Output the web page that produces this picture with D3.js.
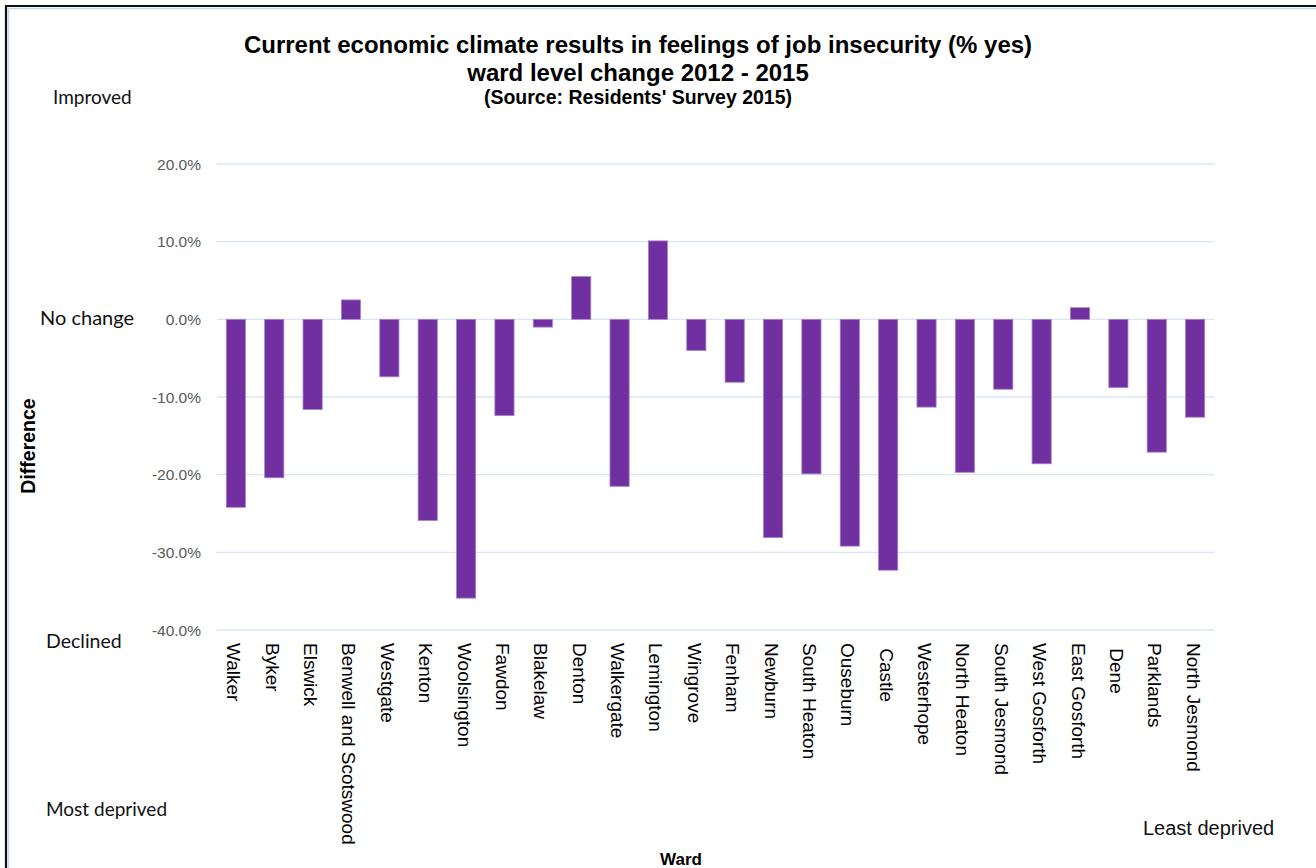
<!DOCTYPE html>
<html>
<head>
<meta charset="utf-8">
<script src="https://cdn.jsdelivr.net/npm/d3@7/dist/d3.min.js"></script>
<style>
  html, body { margin: 0; padding: 0; background: #fff; }
  svg { display: block; }
  .cat { white-space: pre; }
</style>
</head>
<body>
<svg id="chart" width="1316" height="868"></svg>
<script>
// Wards, ordered from most to least deprived
const wards = [
  "Walker", "Byker", "Elswick", "Benwell and Scotswood", "Westgate", "Kenton",
  "Woolsington", "Fawdon", "Blakelaw", "Denton", "Walkergate", "Lemington",
  "Wingrove", "Fenham", "Newburn", "South Heaton", "Ouseburn", " Castle",
  "Westerhope", "North Heaton", "South Jesmond", "West Gosforth", "East Gosforth",
  " Dene", "Parklands", "North Jesmond"
];

// Change in % answering yes, 2012 to 2015
const difference = [
  -0.242, -0.204, -0.116, 0.025, -0.074, -0.259,
  -0.359, -0.124, -0.010, 0.055, -0.215, 0.101,
  -0.040, -0.081, -0.281, -0.199, -0.292, -0.323,
  -0.113, -0.197, -0.090, -0.186, 0.015,
  -0.088, -0.171, -0.126
];

const tickValues = [-0.4, -0.3, -0.2, -0.1, 0, 0.1, 0.2];
const tickLabels = ["-40.0%", "-30.0%", "-20.0%", "-10.0%", "0.0%", "10.0%", "20.0%"];

const titleLines = [
  "Current economic climate results in feelings of job insecurity (% yes)",
  "ward level change 2012 - 2015"
];
const sourceLine = "(Source: Residents' Survey 2015)";

const svg = d3.select("#chart");

const x = d3.scaleBand()
  .domain(wards)
  .range([216.7, 1214.3])
  .paddingInner(0.5)
  .paddingOuter(0.25);

const y = d3.scaleLinear()
  .domain([-0.4, 0.2])
  .range([630, 164]);

// outer frame
svg.append("line").attr("x1", 8.5).attr("y1", 8.5).attr("x2", 1316).attr("y2", 8.5)
  .attr("stroke", "#c9d7ea").attr("stroke-width", 1.5);
svg.append("line").attr("x1", 8.5).attr("y1", 8.5).attr("x2", 8.5).attr("y2", 868)
  .attr("stroke", "#c9d7ea").attr("stroke-width", 1.5);
svg.append("line").attr("x1", 5).attr("y1", 6).attr("x2", 1316).attr("y2", 6)
  .attr("stroke", "#111").attr("stroke-width", 2.2);
svg.append("line").attr("x1", 6).attr("y1", 5).attr("x2", 6).attr("y2", 868)
  .attr("stroke", "#111").attr("stroke-width", 2.2);

// gridlines
const [gx0, gx1] = x.range();
svg.append("g").selectAll("line")
  .data(tickValues)
  .join("line")
  .attr("x1", gx0).attr("x2", gx1)
  .attr("y1", d => y(d)).attr("y2", d => y(d))
  .attr("stroke", "#dae6f4").attr("stroke-width", 1.3);

// y tick labels
svg.append("g").selectAll("text")
  .data(tickValues)
  .join("text")
  .attr("x", 201)
  .attr("y", d => y(d))
  .attr("dy", "0.36em")
  .attr("text-anchor", "end")
  .attr("font-family", "Liberation Sans, Arial, sans-serif")
  .attr("font-size", 15.5)
  .attr("fill", "#595959")
  .text((d, i) => tickLabels[i]);

// bars
const data = wards.map((w, i) => ({ ward: w, value: difference[i] }));
svg.append("g").selectAll("rect")
  .data(data)
  .join("rect")
  .attr("x", d => x(d.ward))
  .attr("width", x.bandwidth())
  .attr("y", d => y(Math.max(0, d.value)))
  .attr("height", d => Math.abs(y(d.value) - y(0)))
  .attr("fill", "#7030a0")
  .attr("stroke", "#a783cc")
  .attr("stroke-width", 0.8);

// ward labels, rotated to read top to bottom
svg.append("g").selectAll("text")
  .data(wards)
  .join("text")
  .attr("class", "cat")
  .attr("transform", d => `translate(${x(d) + x.bandwidth() / 2},643) rotate(90)`)
  .attr("y", 8.5)
  .attr("font-family", "Liberation Sans, Arial, sans-serif")
  .attr("font-size", 19)
  .attr("fill", "#000")
  .text(d => d);

// title
const title = svg.append("g")
  .attr("font-family", "Liberation Sans, Arial, sans-serif")
  .attr("font-weight", "bold")
  .attr("text-anchor", "middle")
  .attr("fill", "#000");
title.selectAll("text.t")
  .data(titleLines)
  .join("text")
  .attr("class", "t")
  .attr("x", 638)
  .attr("y", (d, i) => 53 + i * 28)
  .attr("font-size", 24)
  .text(d => d);
title.append("text")
  .attr("x", 638)
  .attr("y", 104)
  .attr("font-size", 19.5)
  .text(sourceLine);

// axis titles
svg.append("text")
  .attr("transform", "translate(35,446) rotate(-90)")
  .attr("text-anchor", "middle")
  .attr("font-family", "Liberation Sans, Arial, sans-serif")
  .attr("font-weight", "bold")
  .attr("font-size", 19.5)
  .text("Difference");

svg.append("text")
  .attr("x", 681)
  .attr("y", 865)
  .attr("text-anchor", "middle")
  .attr("font-family", "Liberation Sans, Arial, sans-serif")
  .attr("font-weight", "bold")
  .attr("font-size", 17)
  .text("Ward");

// side annotations
const notes = [
  { text: "Improved", x: 53, y: 104, font: "Lato, sans-serif", size: 19 },
  { text: "No change", x: 40, y: 325, font: "Lato, sans-serif", size: 20 },
  { text: "Declined", x: 46, y: 648, font: "Lato, sans-serif", size: 19.5 },
  { text: "Most deprived", x: 46, y: 816, font: "Lato, sans-serif", size: 19 },
  { text: "Least deprived", x: 1143, y: 835, font: "Liberation Sans, Arial, sans-serif", size: 20 }
];
svg.append("g").selectAll("text")
  .data(notes)
  .join("text")
  .attr("x", d => d.x)
  .attr("y", d => d.y)
  .attr("font-family", d => d.font)
  .attr("font-size", d => d.size)
  .attr("fill", "#111")
  .text(d => d.text);
</script>
</body>
</html>
